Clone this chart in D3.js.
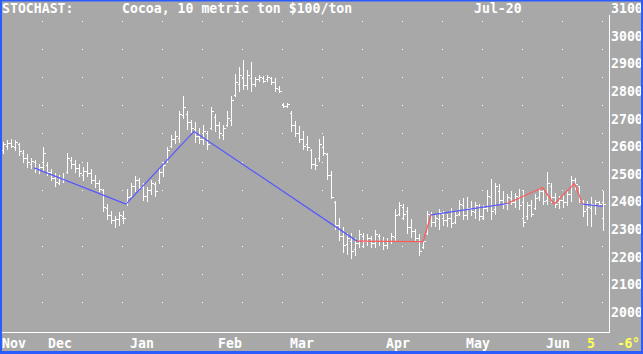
<!DOCTYPE html>
<html lang="en">
<head>
    <meta charset="UTF-8">
    <script src="https://d3js.org/d3.v7.min.js"></script>
    <style>
        body {
            margin: 0;
            background-color: #a8a8a8;
        }
        svg text {
            font-family: 'DejaVu Sans Mono', 'Liberation Mono', monospace;
            font-size: 13.2px;
            font-weight: bold;
            fill: #ffffff;
        }
        .bar {
            stroke: #ffffff;
            stroke-width: 1px;
            shape-rendering: crispEdges;
        }
    </style>
    <title>STOCHAST: Cocoa</title>
</head>
<body>
<div id="chart"></div>
<script>

    // header texts
    const titleLeft = "STOCHAST:";
    const titleMid = "Cocoa, 10 metric ton $100/ton";
    const titleRight = "Jul-20";

    // price ticks on the right axis
    const priceTicks = [3100, 3000, 2900, 2800, 2700, 2600, 2500, 2400, 2300, 2200, 2100, 2000];

    // month labels, placed at a bar index
    const monthNames = ["Nov", "Dec", "Jan", "Feb", "Mar", "Apr", "May", "Jun"];
    const monthIndex = [0, 11.5, 32, 54, 72, 96, 116, 136];

    // daily bars (one per trading day)
    const opens = [2590,2605,2615,2600,2610,2580,2560,2540,2545,2520,2530,2535,2510,2490,2470,2490,2510,2555,2540,2525,
        2500,2515,2505,2480,2470,2445,2380,2355,2335,2340,2350,2400,2425,2460,2480,2455,2425,2445,2465,2480,
        2510,2550,2605,2630,2635,2715,2720,2690,2665,2640,2630,2650,2670,2710,2680,2645,2680,2700,2790,2830,
        2850,2825,2850,2830,2845,2850,2845,2850,2835,2810,2755,2750,2725,2680,2650,2630,2610,2590,2540,2560,
        2600,2575,2500,2400,2320,2280,2250,2260,2230,2255,2280,2260,2270,2255,2280,2260,2245,2260,2275,2360,
        2385,2370,2310,2295,2270,2240,2290,2350,2330,2340,2360,2335,2345,2330,2360,2390,2355,2380,2365,2385,
        2350,2380,2420,2375,2440,2410,2395,2415,2400,2420,2400,2350,2390,2380,2420,2440,2410,2460,2420,2400,
        2410,2400,2430,2480,2460,2405,2375,2380,2390,2400,2400];
    const highs = [2620,2625,2630,2625,2615,2590,2575,2560,2555,2540,2600,2545,2520,2505,2500,2505,2580,2565,2555,2540,
        2530,2545,2520,2500,2480,2450,2395,2370,2350,2365,2370,2450,2470,2495,2490,2470,2455,2480,2475,2520,
        2545,2600,2645,2660,2730,2785,2730,2700,2690,2670,2680,2660,2745,2720,2690,2680,2730,2785,2865,2890,
        2915,2880,2910,2855,2860,2858,2860,2855,2850,2820,2760,2760,2730,2695,2675,2660,2640,2595,2560,2630,
        2640,2580,2515,2405,2345,2310,2290,2290,2270,2300,2290,2285,2280,2300,2285,2275,2270,2290,2375,2400,
        2395,2385,2340,2305,2285,2270,2370,2365,2355,2375,2370,2360,2380,2365,2410,2415,2420,2405,2400,2395,
        2390,2445,2485,2470,2465,2440,2430,2440,2435,2450,2445,2400,2410,2430,2450,2445,2510,2470,2435,2425,
        2430,2440,2495,2490,2460,2410,2405,2420,2410,2405,2440];
    const lows = [2580,2595,2600,2590,2570,2545,2530,2525,2510,2505,2514,2500,2480,2460,2465,2475,2505,2525,2510,2495,
        2480,2495,2470,2455,2440,2370,2340,2325,2310,2320,2325,2390,2420,2440,2445,2410,2405,2430,2425,2470,
        2495,2545,2600,2615,2620,2705,2665,2655,2620,2615,2610,2595,2665,2660,2635,2630,2675,2680,2785,2805,
        2810,2810,2805,2820,2840,2835,2840,2830,2805,2800,2745,2745,2660,2640,2620,2595,2590,2525,2520,2550,
        2570,2485,2415,2305,2265,2220,2215,2200,2210,2240,2240,2245,2240,2240,2245,2230,2235,2255,2265,2355,
        2340,2290,2275,2260,2210,2235,2285,2315,2315,2305,2320,2315,2310,2325,2355,2340,2340,2355,2345,2335,
        2340,2370,2340,2360,2395,2380,2375,2395,2385,2375,2315,2340,2350,2375,2410,2395,2395,2400,2385,2380,
        2385,2390,2405,2450,2400,2350,2320,2315,2360,2390,2300];
    const closes = [2610,2615,2605,2620,2585,2560,2545,2550,2520,2530,2580,2510,2490,2475,2490,2480,2560,2540,2525,2505,
        2515,2505,2480,2470,2450,2385,2355,2335,2340,2355,2345,2420,2460,2480,2455,2425,2445,2470,2440,2510,
        2535,2590,2630,2640,2720,2745,2690,2670,2640,2630,2660,2610,2730,2680,2650,2670,2705,2770,2835,2860,
        2825,2860,2830,2845,2855,2840,2855,2835,2815,2805,2750,2755,2680,2650,2630,2605,2600,2540,2535,2610,
        2580,2500,2420,2320,2280,2245,2270,2225,2255,2285,2260,2270,2255,2285,2260,2245,2260,2280,2355,2390,
        2360,2310,2295,2270,2225,2260,2360,2330,2345,2365,2335,2345,2325,2355,2395,2355,2380,2370,2390,2350,
        2380,2425,2370,2460,2410,2395,2420,2400,2425,2390,2330,2390,2360,2415,2440,2405,2470,2420,2395,2410,
        2400,2430,2480,2465,2410,2370,2385,2395,2400,2395,2395];

    // swing line: turning points (bar index, price) and colour of the leg ending there
    const swingIndex = [7.75, 30.75, 47.75, 88.5, 105, 107, 126, 134.9, 137.8, 142.9, 144.9, 150];
    const swingPrice = [2525, 2394, 2657, 2260, 2258, 2355, 2396, 2454, 2394, 2469, 2394, 2386];
    const swingColor = ["blue", "blue", "blue", "blue", "red", "red", "blue", "red", "red", "red", "red", "blue"];

    const W = 643, H = 354;
    const plotRight = 609, plotBottom = 332;
    const colors = {blue: "#5a5aff", red: "#ff5a5a"};

    const x = d3.scaleLinear().domain([0, 150]).range([3, 603]);
    const y = d3.scaleLinear().domain([2000, 3100]).range([313, 9]);

    const svg = d3.select("#chart")
        .append("svg")
        .attr("width", W)
        .attr("height", H)
        .style("display", "block");

    svg.append("rect")
        .attr("width", W)
        .attr("height", H)
        .attr("fill", "#a8a8a8");

    // dotted background grid (fixed pixel grid of the old screen)
    const dots = [];
    d3.range(42, plotRight, 40).forEach(dx => {
        d3.range(21, 310, 28.1).forEach(dy => dots.push([dx, Math.round(dy)]));
    });
    svg.append("g")
        .selectAll("rect")
        .data(dots)
        .join("rect")
        .attr("x", d => d[0])
        .attr("y", d => d[1])
        .attr("width", 1)
        .attr("height", 1)
        .attr("fill", "#ffffff")
        .style("shape-rendering", "crispEdges");

    // frame: right axis line and bottom line
    svg.append("path")
        .attr("d", `M0,${plotBottom + 0.5}H${plotRight + 0.5}V15`)
        .attr("fill", "none")
        .attr("stroke", "#ffffff")
        .attr("stroke-width", 1)
        .style("shape-rendering", "crispEdges");

    // OHLC bars
    const bars = svg.append("g");
    d3.range(opens.length).forEach(i => {
        const cx = Math.round(x(i)) + 0.5;
        const yo = Math.round(y(opens[i])) + 0.5;
        const yc = Math.round(y(closes[i])) + 0.5;
        bars.append("line").attr("class", "bar")
            .attr("x1", cx).attr("x2", cx)
            .attr("y1", Math.round(y(highs[i]))).attr("y2", Math.round(y(lows[i])) + 1);
        bars.append("line").attr("class", "bar")
            .attr("x1", cx - 2).attr("x2", cx)
            .attr("y1", yo).attr("y2", yo);
        bars.append("line").attr("class", "bar")
            .attr("x1", cx).attr("x2", cx + 2)
            .attr("y1", yc).attr("y2", yc);
    });

    // swing line legs
    for (let k = 1; k < swingIndex.length; k++) {
        svg.append("line")
            .attr("x1", x(swingIndex[k - 1])).attr("y1", y(swingPrice[k - 1]))
            .attr("x2", x(swingIndex[k])).attr("y2", y(swingPrice[k]))
            .attr("stroke", colors[swingColor[k]])
            .attr("stroke-width", 1.3);
    }

    // right axis labels
    svg.append("g")
        .selectAll("text")
        .data(priceTicks)
        .join("text")
        .attr("x", 611)
        .attr("y", d => y(d) + 4)
        .text(d => d);

    // month labels
    svg.append("g")
        .selectAll("text")
        .data(monthNames)
        .join("text")
        .attr("x", (d, i) => x(monthIndex[i]) - 1)
        .attr("y", 348)
        .text(d => d);

    svg.append("text").attr("x", 587).attr("y", 348).style("fill", "#ffff55").text("5");
    svg.append("text").attr("x", 617).attr("y", 348).style("fill", "#ffff55")
        .style("letter-spacing", "-0.5px").text("-6°");

    // header
    svg.append("text").attr("x", 2).attr("y", 13).text(titleLeft);
    svg.append("text").attr("x", 122).attr("y", 13).text(titleMid);
    svg.append("text").attr("x", 474).attr("y", 13).text(titleRight);

    // blue screen border
    svg.append("rect")
        .attr("x", 1).attr("y", 0.5)
        .attr("width", W - 2).attr("height", H - 2)
        .attr("fill", "none")
        .attr("stroke", "#2a5cff")
        .attr("stroke-width", 2);
    svg.append("rect")
        .attr("x", 0).attr("y", H - 3)
        .attr("width", W).attr("height", 3)
        .attr("fill", "#2a5cff");

</script>
</body>
</html>
